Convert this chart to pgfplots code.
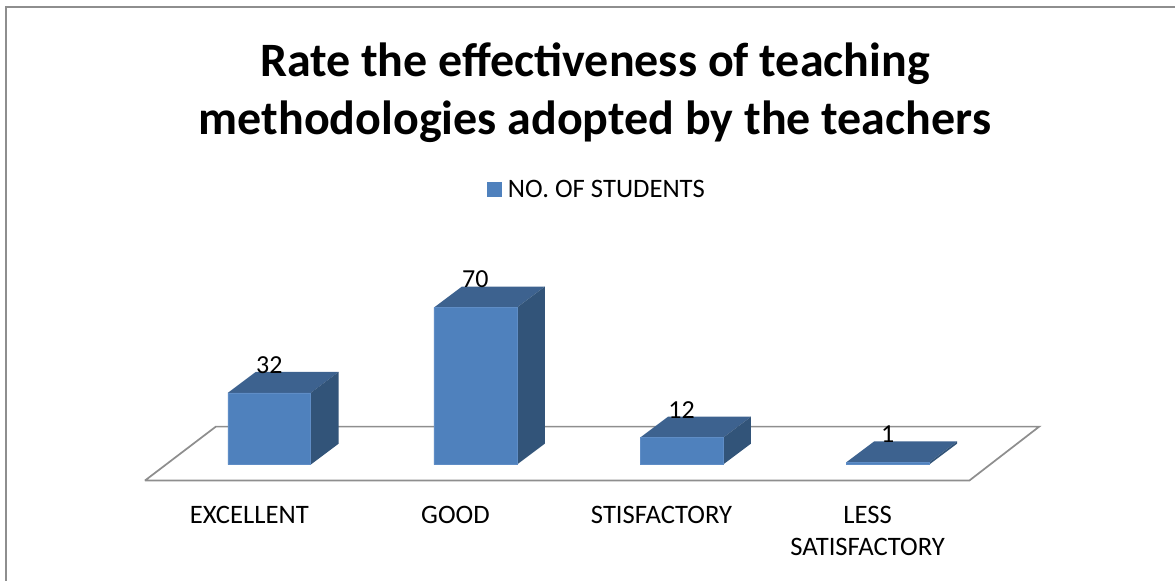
\documentclass[border=0pt]{standalone}
\usepackage{pgfplots}
\pgfplotsset{compat=1.18}
\usepackage{fontspec}
\setmainfont{Carlito}
\definecolor{front}{HTML}{4F81BD}
\definecolor{topf}{HTML}{3D628F}
\definecolor{sidef}{HTML}{325479}
\definecolor{edge}{HTML}{5F8DC6}
\definecolor{floorc}{HTML}{8E8E8E}
\begin{document}
\begin{tikzpicture}
\begin{axis}[
  scale only axis,
  width=882pt, height=435.75pt,
  xmin=-1.3064, xmax=4.394,
  ymin=-51.67, ymax=207.13,
  clip=false,
  axis line style={draw=none},
  tick style={draw=none},
  ytick=\empty,
  xtick={0,1,2,3},
  xticklabels={EXCELLENT,GOOD,STISFACTORY,{LESS\\SATISFACTORY}},
  xticklabel style={font=\fontsize{20}{24}\selectfont, align=center, anchor=north, xshift=-15pt, yshift=59.5pt},
  legend style={at={(0.5084,0.673)}, anchor=center, draw=none, fill=none,
    font=\fontsize{20}{24}\selectfont},
  legend cell align=left,
  legend image code/.code={\fill[front, draw=none] (0cm,-5.6pt) rectangle (11.2pt,5.6pt); \path[draw=none, fill=none] (0cm,0cm) -- (13.5pt,0cm);},
  /pgf/number format/assume math mode=true,
]
% chart frame
\addplot[forget plot, draw=floorc, line width=1.5pt] coordinates {(-1.2773,-51.67) (-1.2773,204) (4.394,204)};
% floor
\addplot[forget plot, fill=white, draw=floorc, line width=1.3pt] coordinates {(-0.6035,-7.13) (3.396,-7.13) (3.735,16.93) (-0.2593,16.93) (-0.6035,-7.13)};
% top faces
\addplot[forget plot, fill=topf, draw=none] coordinates {(-0.2012,32) (0.2012,32) (0.3369,41.35) (-0.0655,41.35)} -- cycle;
\addplot[forget plot, fill=topf, draw=none] coordinates {(0.7988,70) (1.2012,70) (1.3369,79.35) (0.9345,79.35)} -- cycle;
\addplot[forget plot, fill=topf, draw=none] coordinates {(1.7988,12) (2.2012,12) (2.3369,21.35) (1.9345,21.35)} -- cycle;
\addplot[forget plot, fill=topf, draw=none] coordinates {(2.7988,1) (3.2012,1) (3.3369,10.35) (2.9345,10.35)} -- cycle;
% side faces
\addplot[forget plot, fill=sidef, draw=none] coordinates {(0.2012,0) (0.2012,32) (0.3369,41.35) (0.3369,9.35)} -- cycle;
\addplot[forget plot, fill=sidef, draw=none] coordinates {(1.2012,0) (1.2012,70) (1.3369,79.35) (1.3369,9.35)} -- cycle;
\addplot[forget plot, fill=sidef, draw=none] coordinates {(2.2012,0) (2.2012,12) (2.3369,21.35) (2.3369,9.35)} -- cycle;
\addplot[forget plot, fill=sidef, draw=none] coordinates {(3.2012,0) (3.2012,1) (3.3369,10.35) (3.3369,9.35)} -- cycle;
% front faces
\addplot[ybar, bar width=0.4024, fill=front, draw=edge, line width=0.4pt,
  nodes near coords, point meta=y,
  nodes near coords style={font=\fontsize{19.5}{22}\selectfont, anchor=center, yshift=21pt, text=black}]
  coordinates {(0,32) (1,70) (2,12) (3,1)};
\addlegendentry{NO. OF STUDENTS}
\node[font=\fontsize{36}{43.5}\selectfont\bfseries, align=center, anchor=center] at (axis cs:1.58,166) {Rate the effectiveness of teaching\\methodologies adopted by the teachers};
\end{axis}
\end{tikzpicture}
\end{document}
